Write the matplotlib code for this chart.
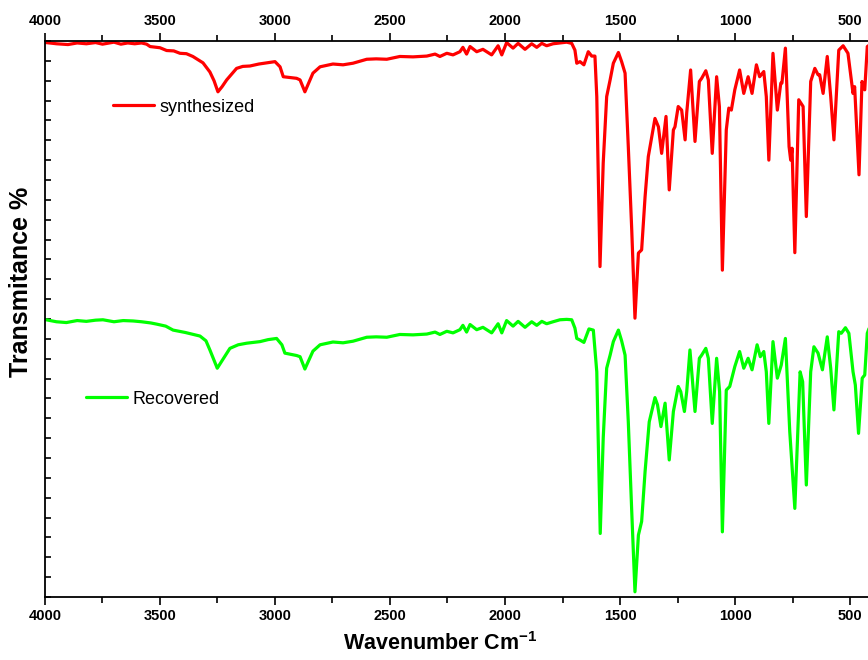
import matplotlib.pyplot as plt
from matplotlib.ticker import MultipleLocator

plt.rcParams['font.family'] = ['Liberation Sans', 'DejaVu Sans']
plt.rcParams['mathtext.fontset'] = 'custom'
plt.rcParams['mathtext.bf'] = 'Liberation Sans:bold'
plt.rcParams['mathtext.rm'] = 'Liberation Sans'

# FTIR spectrum of the synthesized sample (wavenumber in cm-1, transmittance, arb. offset)
wn_synth = [3995, 3950, 3900, 3860, 3820, 3780, 3750, 3720, 3700, 3670, 3640, 3610,
            3580, 3558, 3543, 3500, 3471, 3440, 3413, 3385, 3357, 3313, 3283, 3265,
            3248, 3230, 3210, 3167, 3140, 3109, 3070, 3036, 3000, 2978, 2964, 2906,
            2891, 2870, 2835, 2804, 2748, 2704, 2661, 2601, 2560, 2514, 2457, 2400,
            2340, 2304, 2283, 2253, 2226, 2196, 2183, 2167, 2152, 2123, 2096, 2058,
            2030, 2014, 1993, 1965, 1943, 1913, 1884, 1862, 1840, 1819, 1791, 1760,
            1732, 1710, 1696, 1688, 1674, 1657, 1638, 1623, 1609, 1601, 1587, 1573,
            1558, 1543, 1529, 1507, 1493, 1478, 1464, 1449, 1435, 1420, 1406, 1391,
            1377, 1348, 1333, 1319, 1300, 1286, 1268, 1261, 1247, 1232, 1217, 1210,
            1193, 1174, 1155, 1145, 1127, 1116, 1099, 1080, 1068, 1055, 1038, 1027,
            1016, 1001, 980, 962, 943, 926, 907, 893, 875, 864, 853, 835,
            816, 801, 796, 781, 765, 758, 752, 740, 723, 704, 690, 671,
            653, 639, 632, 617, 599, 584, 570, 549, 530, 509, 487, 480,
            461, 448, 436, 425, 415]
t_synth = [139.6, 139.3, 139.1, 139.5, 139.3, 139.6, 139.2, 139.5, 139.7, 139.2, 139.5, 139.3,
           139.5, 139.2, 138.6, 138.3, 137.6, 137.5, 136.9, 136.8, 136.1, 134.5, 132.2, 130.0,
           127.2, 128.5, 130.2, 133.1, 133.6, 133.7, 134.2, 134.5, 134.8, 133.5, 131.0, 130.6,
           130.2, 127.2, 131.9, 133.5, 134.2, 134.0, 134.4, 135.4, 135.5, 135.4, 136.1, 136.0,
           136.2, 136.7, 136.1, 136.9, 136.5, 137.3, 138.4, 136.7, 138.6, 137.3, 137.9, 136.5,
           138.8, 136.5, 139.6, 138.2, 139.4, 137.9, 139.3, 138.4, 139.4, 138.8, 139.3, 139.5,
           139.7, 139.4, 137.7, 134.4, 134.8, 134.0, 137.3, 136.2, 136.2, 126.0, 83.2, 109.3,
           126.0, 130.2, 134.4, 137.1, 134.8, 131.9, 113.4, 92.4, 70.2, 86.6, 87.4, 100.8,
           110.9, 120.5, 118.4, 111.7, 121.0, 102.5, 117.6, 118.4, 123.5, 122.6, 115.1, 121.9,
           132.7, 114.7, 129.8, 130.6, 132.5, 130.2, 111.7, 131.0, 123.5, 82.3, 117.6, 123.1,
           122.6, 127.7, 132.7, 126.8, 131.0, 126.8, 134.0, 131.0, 132.3, 126.0, 110.0, 136.9,
           122.6, 129.4, 129.4, 138.2, 113.4, 110.0, 113.0, 86.7, 125.2, 123.5, 95.8, 129.8,
           133.1, 131.5, 131.5, 126.8, 136.1, 126.0, 115.1, 137.7, 138.8, 136.9, 126.8, 128.5,
           106.3, 129.8, 127.7, 138.6, 139.0]

# FTIR spectrum of the recovered sample
wn_recov = [3995, 3950, 3907, 3860, 3820, 3780, 3748, 3700, 3660, 3617, 3580, 3540,
            3514, 3475, 3443, 3390, 3326, 3300, 3283, 3251, 3230, 3196, 3160, 3123,
            3065, 3030, 2993, 2970, 2957, 2906, 2891, 2870, 2835, 2804, 2748, 2704,
            2661, 2601, 2560, 2514, 2457, 2400, 2340, 2304, 2283, 2253, 2226, 2196,
            2183, 2167, 2152, 2123, 2096, 2058, 2030, 2014, 1993, 1965, 1943, 1913,
            1884, 1862, 1840, 1819, 1791, 1761, 1732, 1710, 1696, 1688, 1674, 1657,
            1635, 1616, 1601, 1586, 1573, 1558, 1543, 1529, 1507, 1493, 1478, 1464,
            1449, 1435, 1420, 1406, 1391, 1373, 1348, 1337, 1322, 1304, 1286, 1268,
            1247, 1236, 1220, 1210, 1196, 1174, 1155, 1145, 1127, 1116, 1099, 1080,
            1067, 1055, 1038, 1023, 1001, 980, 962, 943, 926, 904, 890, 875,
            864, 853, 835, 816, 799, 781, 762, 740, 717, 706, 690, 671,
            657, 639, 620, 599, 584, 570, 549, 538, 520, 505, 487, 477,
            463, 447, 436, 425, 415]
t_recov = [69.8, 69.3, 69.1, 69.6, 69.4, 69.7, 69.8, 69.3, 69.6, 69.5, 69.3, 69.0,
           68.7, 68.2, 67.2, 66.6, 65.7, 64.5, 62.2, 57.6, 59.5, 62.6, 63.5, 63.9,
           64.3, 64.8, 65.1, 63.5, 61.4, 60.8, 60.5, 57.4, 61.9, 63.5, 64.2, 64.0,
           64.4, 65.4, 65.5, 65.4, 66.1, 66.0, 66.2, 66.7, 66.1, 66.9, 66.5, 67.3,
           68.4, 66.7, 68.6, 67.3, 67.9, 66.5, 68.8, 66.5, 69.6, 68.2, 69.4, 67.9,
           69.3, 68.4, 69.4, 68.8, 69.3, 69.8, 69.9, 69.8, 67.7, 65.1, 64.7, 64.1,
           67.5, 67.2, 56.7, 16.0, 40.0, 57.6, 60.9, 64.3, 67.2, 64.5, 60.9, 44.1,
           21.5, 1.3, 15.6, 19.0, 31.6, 44.1, 50.2, 48.4, 42.9, 48.8, 34.5, 46.7,
           53.0, 51.7, 46.7, 51.7, 62.2, 46.7, 60.1, 60.9, 62.6, 60.1, 43.7, 60.1,
           51.7, 16.4, 52.1, 53.0, 58.0, 61.8, 57.6, 60.1, 57.2, 63.5, 60.5, 61.8,
           56.7, 43.7, 64.3, 55.1, 58.4, 65.1, 41.6, 22.3, 56.7, 54.2, 28.2, 56.7,
           63.0, 61.4, 57.2, 65.5, 57.6, 47.1, 66.8, 66.4, 67.8, 66.4, 56.7, 53.4,
           41.2, 55.1, 55.9, 66.4, 68.0]

fig = plt.figure(figsize=(8.68, 6.6), dpi=100)
ax = fig.add_axes([0.0518, 0.0955, 1.0058 - 0.0518, 0.8424])

line_kw = dict(lw=2.3, solid_joinstyle='round', solid_capstyle='round')
l1, = ax.plot(wn_synth, t_synth, color='#ff0000', **line_kw)
l2, = ax.plot(wn_recov, t_recov, color='#00ff00', **line_kw)

ax.set_xlim(4000, 400)
ax.set_ylim(0, 140)

ax.xaxis.set_major_locator(MultipleLocator(500))
ax.xaxis.set_minor_locator(MultipleLocator(250))
ax.yaxis.set_major_locator(MultipleLocator(5))
ax.tick_params(axis='x', which='both', direction='out', top=True, labeltop=True,
               width=1.2, labelsize=10.5, pad=3)
ax.tick_params(axis='x', which='major', length=6)
ax.tick_params(axis='x', which='minor', length=4)
ax.tick_params(axis='y', which='major', direction='in', length=4, width=1.2,
               labelleft=False, right=False)
for lab in ax.get_xticklabels(which='both'):
    lab.set_fontweight('bold')
for s in ax.spines.values():
    s.set_linewidth(1.3)
ax.spines['right'].set_visible(False)

ax.set_xlabel('Wavenumber Cm$^{\\mathbf{-1}}$', fontsize=15.5, fontweight='bold')
ax.xaxis.set_label_coords(0.478, -0.064)
ax.set_ylabel('Transmitance %', fontsize=18, fontweight='bold')
ax.yaxis.set_label_coords(-0.014, 0.567)

leg1 = ax.legend([l1], ['synthesized'], loc='center left', bbox_to_anchor=(0.0821, 0.881),
                 frameon=False, fontsize=13, borderpad=0, borderaxespad=0,
                 handlelength=2.3, handletextpad=0.3)
ax.add_artist(leg1)
ax.legend([l2], ['Recovered'], loc='center left', bbox_to_anchor=(0.0495, 0.356),
          frameon=False, fontsize=13, borderpad=0, borderaxespad=0,
          handlelength=2.3, handletextpad=0.3)

fig.savefig('out.png', dpi=100)
